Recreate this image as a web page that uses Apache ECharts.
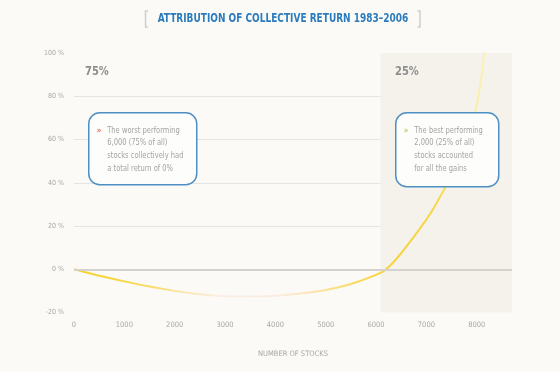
<!DOCTYPE html>
<html>
<head>
<meta charset="utf-8">
<script src="https://cdn.jsdelivr.net/npm/echarts@6/dist/echarts.min.js"></script>
<style>
html,body{margin:0;padding:0;background:#fbfaf7;}
#c{width:560px;height:372px;}
</style>
</head>
<body>
<div id="c"></div>
<script>
// ---- data ----
var titleText = 'ATTRIBUTION OF COLLECTIVE RETURN 1983\u20132006';
var xAxisName = 'NUMBER OF STOCKS';
var stockCounts = [0, 500, 1000, 1500, 2000, 2500, 3000, 3500, 4000, 4500, 5000, 5500, 6000, 6200, 6500, 7000, 7200, 7500, 7700, 7900, 8000, 8100, 8160];
var cumulativeReturn = [0, -3, -5.6, -8, -10, -11.6, -12.5, -12.6, -12.2, -11.2, -9.6, -6.8, -2.6, 0, 7.5, 23, 30.5, 43.5, 53.5, 67, 76, 90, 102];
var yTicks = [-20, 0, 20, 40, 60, 80, 100];
var xTicks = [0, 1000, 2000, 3000, 4000, 5000, 6000, 7000, 8000];
var xMax = 8700;
var bestStart = 6090;
var leftShare = '75%';
var rightShare = '25%';
var leftNote = ['The worst performing', '6,000 (75% of all)', 'stocks collectively had', 'a total return of 0%'];
var rightNote = ['The best performing', '2,000 (25% of all)', 'stocks accounted', 'for all the gains'];

var FONT = '"DejaVu Sans Condensed", "Liberation Sans Narrow", "Roboto", sans-serif';
var chart = echarts.init(document.getElementById('c'));

var lineData = stockCounts.map(function (x, i) { return [x, cumulativeReturn[i]]; });

function noteBox(x, y, w, h, lines, chevColor) {
  return {
    type: 'group', left: x, top: y, z: 100,
    children: [
      { type: 'rect', z: 100, shape: { x: 0, y: 0, width: w, height: h, r: 11 },
        style: { fill: '#fdfdfc', stroke: '#4f90c4', lineWidth: 1.5 } },
      { type: 'text', z: 101, x: 8, y: 18, scaleX: 0.9, style: { text: '\u00bb', fill: chevColor, font: 'bold 9px ' + FONT, textVerticalAlign: 'middle' } },
      { type: 'text', z: 101, x: 18.5, y: 11.5, scaleX: 0.88, style: { text: lines.join('\n'), fill: '#a4a4a4', font: '8.5px ' + FONT, lineHeight: 12.6 } }
    ]
  };
}

var option = {
  backgroundColor: '#fbfaf7',
  animation: false,
  grid: { left: 74, right: 48, top: 53, bottom: 59.5 },
  xAxis: {
    type: 'value', min: 0, max: xMax, interval: 1000,
    axisLine: { show: false }, axisTick: { show: false }, splitLine: { show: false },
    axisLabel: { color: '#a8a8a8', fontSize: 7.5, fontFamily: FONT, margin: 9, showMaxLabel: false,
      formatter: function (v) { return xTicks.indexOf(v) >= 0 ? String(v) : ''; } },
    name: xAxisName, nameLocation: 'middle', nameGap: 38,
    nameTextStyle: { color: '#a8a8a8', fontSize: 7.5, fontFamily: FONT }
  },
  yAxis: {
    type: 'value', min: yTicks[0], max: yTicks[yTicks.length - 1], interval: 20,
    axisLine: { show: false }, axisTick: { show: false },
    axisLabel: { color: '#a8a8a8', fontSize: 7, fontFamily: FONT, margin: 10, verticalAlign: 'middle',
      padding: [0, 0, 4, 0], formatter: '{value} %' },
    splitLine: { lineStyle: { width: 1, color: ['rgba(0,0,0,0)', 'rgba(0,0,0,0)', '#e6e5e2', '#e6e5e2', '#e6e5e2', '#e6e5e2', 'rgba(0,0,0,0)'] } }
  },
  series: [{
    type: 'line', data: lineData, smooth: 0.35, showSymbol: false, clip: true,
    lineStyle: {
      width: 2,
      color: new echarts.graphic.LinearGradient(0, 0, 1, 0, [
        { offset: 0, color: '#f7d22c' },
        { offset: 0.15, color: '#f8d84c' },
        { offset: 0.28, color: '#fbe7b4' },
        { offset: 0.36, color: '#fbeee6' },
        { offset: 0.5, color: '#fbece0' },
        { offset: 0.6, color: '#fae3a0' },
        { offset: 0.72, color: '#f7d645' },
        { offset: 0.8, color: '#f6d232' },
        { offset: 0.88, color: '#f7d84e' },
        { offset: 0.94, color: '#fae592' },
        { offset: 1, color: '#fcf2bc' }
      ])
    },
    markArea: {
      silent: true,
      itemStyle: { color: '#f4f2eb' },
      data: [[{ xAxis: bestStart, yAxis: yTicks[0] }, { xAxis: xMax, yAxis: yTicks[yTicks.length - 1] }]]
    },
    markLine: {
      silent: true, symbol: 'none', label: { show: false },
      lineStyle: { color: '#d3d2cf', width: 2, type: 'solid' },
      data: [{ yAxis: 0 }]
    },
    z: 3
  }],
  graphic: [
    { type: 'text', z: 100, x: 283, y: 19, scaleX: 0.8, style: { text: titleText, fill: '#2c7bbd', font: 'bold 12.5px ' + FONT, textAlign: 'center', textVerticalAlign: 'middle' } },
    { type: 'polyline', z: 100, shape: { points: [[148, 11], [145.5, 11], [145.5, 27], [148, 27]] }, style: { stroke: '#cfcfcf', lineWidth: 1.5, fill: null } },
    { type: 'polyline', z: 100, shape: { points: [[417.5, 11], [420, 11], [420, 27], [417.5, 27]] }, style: { stroke: '#cfcfcf', lineWidth: 1.5, fill: null } },
    { type: 'text', z: 100, x: 85, y: 72, scaleX: 0.85, style: { text: leftShare, fill: '#8e8e8e', font: 'bold 13px ' + FONT, textVerticalAlign: 'middle' } },
    { type: 'text', z: 100, x: 395, y: 72, scaleX: 0.85, style: { text: rightShare, fill: '#8e8e8e', font: 'bold 13px ' + FONT, textVerticalAlign: 'middle' } },
    noteBox(88, 112, 108, 72, leftNote, '#e0745a'),
    noteBox(395, 112, 103, 74, rightNote, '#c8c870')
  ]
};
chart.setOption(option);
</script>
</body>
</html>
